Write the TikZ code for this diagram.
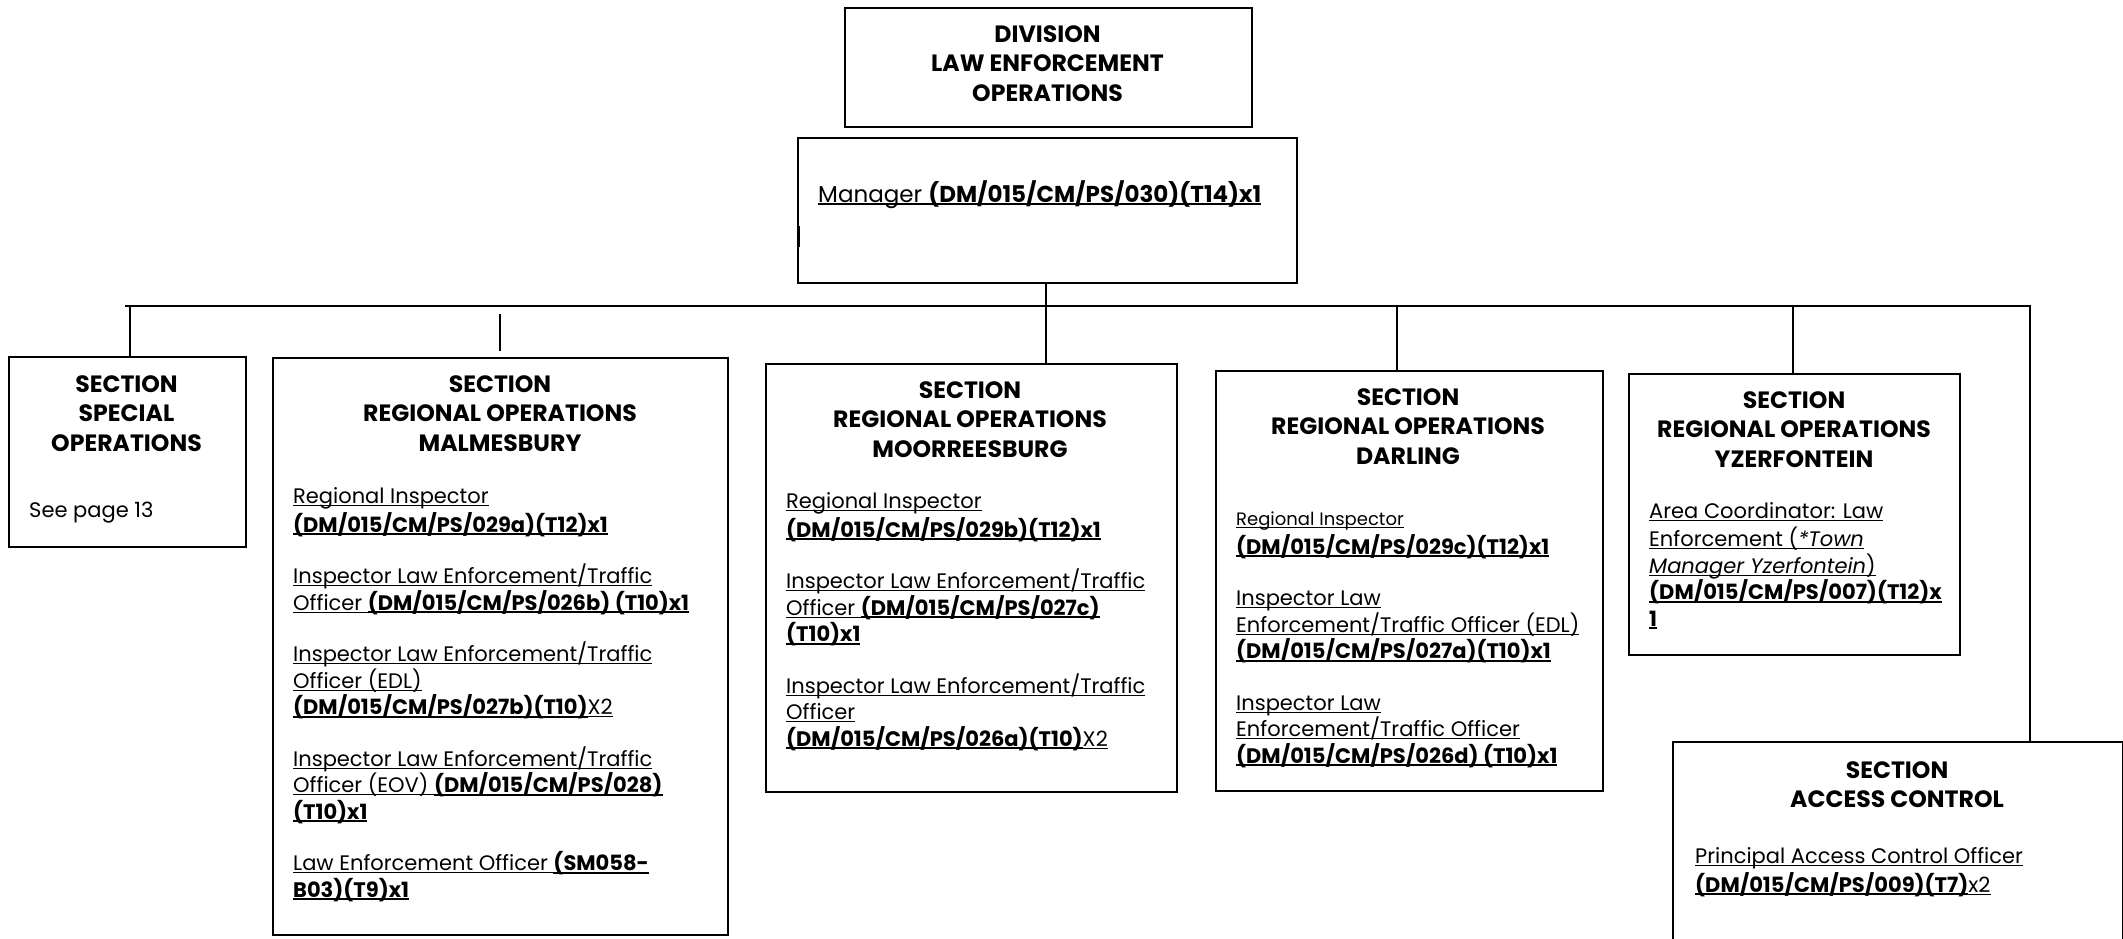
\documentclass[tikz,border=0pt]{standalone}
\usepackage{fontspec}
\setmainfont{Poppins}
\newcommand\headfont{\fontsize{23.6}{29.5}\selectfont\bfseries}
\newcommand\bodyfont{\fontsize{21}{26.5}\selectfont}
\newcommand\undl[1]{\setbox0\hbox{#1}\rlap{\rule[-2.6pt]{\wd0}{1.2pt}}\box0}
\newcommand\undlb[1]{\setbox0\hbox{\bfseries #1}\rlap{\rule[-3.2pt]{\wd0}{2pt}}\box0}
\tikzset{
  box/.style={draw, line width=1.8pt, inner sep=0pt, anchor=north west},
  conn/.style={line width=1.8pt},
  head/.style={inner sep=0pt, anchor=north, align=center, font=\headfont},
  body/.style={inner sep=0pt, anchor=north west, align=left, font=\bodyfont},
}
\begin{document}
\begin{tikzpicture}[x=1pt,y=-1pt]
\useasboundingbox (0,0) rectangle (2123,939);
% boxes
\node[box, minimum width=407pt, minimum height=119pt] (div) at (844,7) {};
\node[box, minimum width=499pt, minimum height=145pt] (mgr) at (797,137) {};
\node[box, minimum width=237pt, minimum height=190pt] (spec) at (8,356) {};
\node[box, minimum width=455pt, minimum height=577pt] (malm) at (272,357) {};
\node[box, minimum width=411pt, minimum height=428pt] (moor) at (765,363) {};
\node[box, minimum width=387pt, minimum height=420pt] (darl) at (1215,370) {};
\node[box, minimum width=331pt, minimum height=281pt] (yzer) at (1628,373) {};
\node[box, minimum width=450pt, minimum height=260pt] (acc) at (1672,741) {};
% connectors
\coordinate (busL) at (125,306);
\coordinate (busR) at (2030,306);
\coordinate (mgrB) at ([xshift=-1.5pt]mgr.south);
\coordinate (specT) at (130,306);
\coordinate (darT) at (1397,306);
\coordinate (yzT) at (1793,305);
\coordinate (mtA) at (500,314);
\coordinate (mtB) at (500,351);
\coordinate (mkA) at (799,226);
\coordinate (mkB) at (799,247);
\draw[conn] (mgrB) -- (mgrB |- moor.north);
\draw[conn] (busL) -- (busR) -- (busR |- acc.north);
\draw[conn] (specT) -- (specT |- spec.north);
\draw[conn] (darT) -- (darT |- darl.north);
\draw[conn] (yzT) -- (yzT |- yzer.north);
\draw[conn] (mtA) -- (mtB);
\draw[conn] (mkA) -- (mkB);
% headings
\node[head] (divH) at (1047.5,21.3) {\strut DIVISION\\LAW ENFORCEMENT\\OPERATIONS};
\node[head] (specH) at (126.5,371.3) {\strut SECTION\\SPECIAL\\OPERATIONS};
\node[head] (malmH) at (500,371.3) {\strut SECTION\\REGIONAL OPERATIONS\\MALMESBURY};
\node[head] (moorH) at (970,377.3) {\strut SECTION\\REGIONAL OPERATIONS\\MOORREESBURG};
\node[head] (darlH) at (1408,384.3) {\strut SECTION\\REGIONAL OPERATIONS\\DARLING};
\node[head] (yzerH) at (1794,387.3) {\strut SECTION\\REGIONAL OPERATIONS\\YZERFONTEIN};
\node[head] (accH) at (1897,757.3) {\strut SECTION\\ACCESS CONTROL};
% bodies
\node[body, anchor=base west, font=\fontsize{23}{27}\selectfont] (mgrT) at (818,202) {\undl{Manager }\undlb{(DM/015/CM/PS/030)(T14)x1}};
\node[body, anchor=base west] (specT2) at (29,517) {See page 13};
\node[body] (malmB) at (293,484.45) {\strut\undl{Regional Inspector}\\
\undlb{(DM/015/CM/PS/029a)(T12)x1}\\[25pt]
\undl{Inspector Law Enforcement/Traffic}\\
\undl{Officer }\undlb{(DM/015/CM/PS/026b) (T10)x1}\\[25pt]
\undl{Inspector Law Enforcement/Traffic}\\
\undl{Officer (EDL)}\\
\undlb{(DM/015/CM/PS/027b)(T10)}\undl{X2}\\[25pt]
\undl{Inspector Law Enforcement/Traffic}\\
\undl{Officer (EOV) }\undlb{(DM/015/CM/PS/028)}\\
\undlb{(T10)x1}\\[25pt]
\undl{Law Enforcement Officer }\undlb{(SM058-}\\
\undlb{B03)(T9)x1}};
\node[body] (moorB) at (786,489.45) {\strut\undl{Regional Inspector}\\
\undlb{(DM/015/CM/PS/029b)(T12)x1}\\[25pt]
\undl{Inspector Law Enforcement/Traffic}\\
\undl{Officer }\undlb{(DM/015/CM/PS/027c)}\\
\undlb{(T10)x1}\\[25pt]
\undl{Inspector Law Enforcement/Traffic}\\
\undl{Officer}\\
\undlb{(DM/015/CM/PS/026a)(T10)}\undl{X2}};
\node[body] (darlB) at (1236,506.45) {\strut{\fontsize{18}{26.5}\selectfont\undl{Regional Inspector}}\\
\undlb{(DM/015/CM/PS/029c)(T12)x1}\\[25pt]
\undl{Inspector Law}\\
\undl{Enforcement/Traffic Officer (EDL)}\\
\undlb{(DM/015/CM/PS/027a)(T10)x1}\\[25pt]
\undl{Inspector Law}\\
\undl{Enforcement/Traffic Officer}\\
\undlb{(DM/015/CM/PS/026d) (T10)x1}};
\node[body] (yzerB) at (1649,499.45) {\strut\undl{Area Coordinator: Law}\\
\undl{Enforcement (\textit{*Town}}\\
\undl{\textit{Manager Yzerfontein})}\\
\undlb{(DM/015/CM/PS/007)(T12)x}\\
\undlb{1}};
\node[body] (accB) at (1695,844.45) {\strut\undl{Principal Access Control Officer}\\
\undlb{(DM/015/CM/PS/009)(T7)}\undl{x2}};
\end{tikzpicture}
\end{document}
